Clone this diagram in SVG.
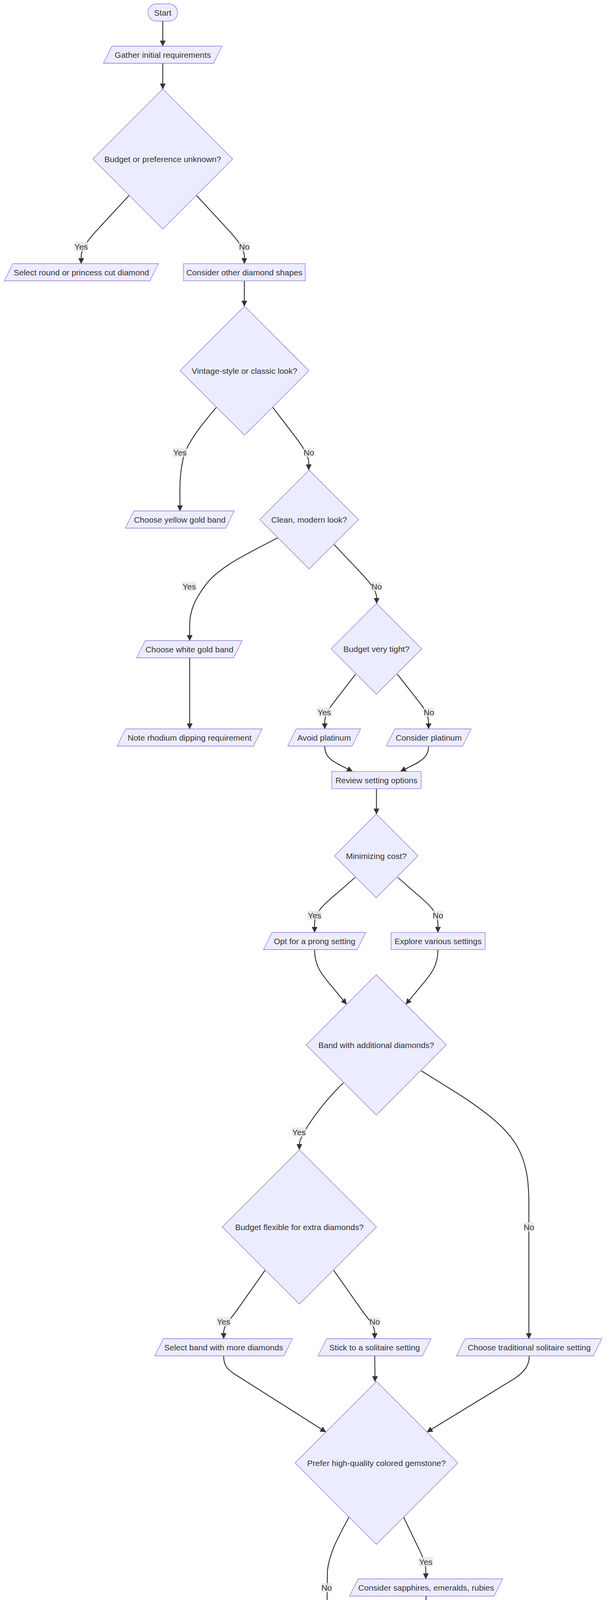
<svg xmlns="http://www.w3.org/2000/svg" width="1568" height="4724" viewBox="0 0 1568 4724">
<style>
.node rect, .node polygon { fill: #ECECFF; stroke: #9370DB; stroke-width: 1.3; }
.t { font-family: "Liberation Sans", Arial, sans-serif; font-size: 21px; fill: #333333; text-anchor: middle; }
.edge { fill: none; stroke: #333333; stroke-width: 2.3; marker-end: url(#arr); }
.lbl rect { fill: #e8e8e8; opacity: 0.85; }
</style>
<defs>
<marker id="arr" viewBox="0 0 10 10" refX="9.5" refY="5" markerUnits="userSpaceOnUse" markerWidth="15" markerHeight="15" orient="auto">
<path d="M0,0 L10,5 L0,10 z" fill="#333333"/>
</marker>
</defs>
<rect x="0" y="0" width="1568" height="4724" fill="#ffffff"/>

<g id="connectors">
<path class="edge" d="M417,54 L417,118"/>
<path class="edge" d="M417,162 L417,228"/>
<path class="edge" d="M331,500 L245,593 C228,612 209,635 208,655 L208,675"/>
<path class="edge" d="M503,500 L589,593 C606,612 625,635 626,655 L626,675"/>
<path class="edge" d="M626,719 L626,784"/>
<path class="edge" d="M554,1043 C510,1095 475,1140 468,1180 C463,1205 461,1225 461,1250 L461,1308"/>
<path class="edge" d="M699,1043 L764,1128 C780,1150 791,1170 791,1185 L791,1203"/>
<path class="edge" d="M711,1377 C640,1415 560,1450 525,1500 C495,1540 486,1570 486,1600 L486,1640"/>
<path class="edge" d="M856,1394 L925,1467 C948,1492 964,1510 965,1530 L965,1545"/>
<path class="edge" d="M486,1684 L486,1866"/>
<path class="edge" d="M911,1726 L850,1805 C838,1822 832,1835 832,1850 L832,1866"/>
<path class="edge" d="M1018,1726 L1080,1805 C1092,1822 1098,1835 1098,1850 L1098,1866"/>
<path class="edge" d="M832,1910 C832,1945 860,1952 903,1975"/>
<path class="edge" d="M1098,1910 C1098,1945 1070,1952 1026,1975"/>
<path class="edge" d="M964.5,2019 L964.5,2084"/>
<path class="edge" d="M910,2246 L862,2288 C830,2315 806,2335 806,2365 L806,2387"/>
<path class="edge" d="M1019,2246 L1067,2288 C1099,2315 1122,2335 1122,2365 L1122,2387"/>
<path class="edge" d="M806,2431 C806,2470 820,2490 850,2525 L888,2571"/>
<path class="edge" d="M1122,2431 C1122,2470 1108,2490 1078,2525 L1040,2571"/>
<path class="edge" d="M880,2772 C840,2810 810,2850 790,2880 C775,2905 767,2920 767,2930 L767,2943"/>
<path class="edge" d="M1079,2741 L1180,2804 C1250,2850 1300,2890 1325,2935 C1348,2975 1355,3020 1355,3080 L1355,3427"/>
<path class="edge" d="M679,3252 L605,3357 C590,3378 573,3392 573,3412 L573,3427"/>
<path class="edge" d="M855,3252 L929,3357 C944,3378 960,3392 960,3412 L960,3427"/>
<path class="edge" d="M573,3471 C573,3495 582,3505 600,3517 L835,3666"/>
<path class="edge" d="M960,3471 L961,3537"/>
<path class="edge" d="M1356,3471 C1356,3495 1345,3510 1320,3528 L1094,3666"/>
<path class="edge" d="M1034,3884 L1078,3975 C1085,3990 1091,4005 1091,4020 L1091,4042"/>
<path class="edge" d="M894,3884 C870,3930 845,3970 839,4020 L838,4090 C838,4140 862,4168 896,4218"/>
<path class="edge" d="M1092,4086 C1092,4130 1065,4165 1032,4218"/>
<path class="edge" d="M887,4454 L818,4555 C808,4570 801,4585 801,4600 L801,4620"/>
<path class="edge" d="M1042,4454 L1110,4555 C1120,4570 1127,4585 1127,4600 L1127,4620"/>
</g>

<g id="edge-labels">
<g class="lbl"><rect x="190" y="619.5" width="36" height="23.4"/><text class="t" x="208" y="638.5">Yes</text></g>
<g class="lbl"><rect x="612.5" y="619.5" width="27" height="23.4"/><text class="t" x="626" y="638.5">No</text></g>
<g class="lbl"><rect x="443" y="1146.3" width="36" height="23.4"/><text class="t" x="461" y="1165.5">Yes</text></g>
<g class="lbl"><rect x="778" y="1146.3" width="27" height="23.4"/><text class="t" x="791.5" y="1165.5">No</text></g>
<g class="lbl"><rect x="467" y="1489.3" width="36" height="23.4"/><text class="t" x="485" y="1508.5">Yes</text></g>
<g class="lbl"><rect x="951.5" y="1489.3" width="27" height="23.4"/><text class="t" x="965" y="1508.5">No</text></g>
<g class="lbl"><rect x="813" y="1811.3" width="36" height="23.4"/><text class="t" x="831" y="1830.5">Yes</text></g>
<g class="lbl"><rect x="1085.5" y="1811.3" width="27" height="23.4"/><text class="t" x="1099" y="1830.5">No</text></g>
<g class="lbl"><rect x="788" y="2331.3" width="36" height="23.4"/><text class="t" x="806" y="2350.5">Yes</text></g>
<g class="lbl"><rect x="1108.5" y="2331.3" width="27" height="23.4"/><text class="t" x="1122" y="2350.5">No</text></g>
<g class="lbl"><rect x="748" y="2886.3" width="36" height="23.4"/><text class="t" x="766" y="2905.5">Yes</text></g>
<g class="lbl"><rect x="1341.5" y="3129.3" width="27" height="23.4"/><text class="t" x="1355" y="3148.5">No</text></g>
<g class="lbl"><rect x="555" y="3371.8" width="36" height="23.4"/><text class="t" x="573" y="3391">Yes</text></g>
<g class="lbl"><rect x="946.5" y="3371.8" width="27" height="23.4"/><text class="t" x="960" y="3391">No</text></g>
<g class="lbl"><rect x="1073" y="3986.3" width="36" height="23.4"/><text class="t" x="1091" y="4005.5">Yes</text></g>
<g class="lbl"><rect x="823.5" y="4052.8" width="27" height="23.4"/><text class="t" x="837" y="4072">No</text></g>
<g class="lbl"><rect x="783" y="4563.3" width="36" height="23.4"/><text class="t" x="801" y="4582.5">Yes</text></g>
<g class="lbl"><rect x="1114" y="4563.3" width="27" height="23.4"/><text class="t" x="1127.5" y="4582.5">No</text></g>
</g>

<g id="n-start" class="node"><rect x="379" y="10" width="76" height="44" rx="22" ry="22"/><text class="t" x="417" y="39.5">Start</text></g>
<g id="n-gather" class="node"><polygon points="287,118 569,118 547,162 265,162"/><text class="t" x="417" y="147.5">Gather initial requirements</text></g>
<g id="n-d1" class="node"><polygon points="417,228 596,407 417,586 238,407"/><text class="t" x="417" y="414.5">Budget or preference unknown?</text></g>
<g id="n-round" class="node"><polygon points="33,675 406,675 384,719 11,719"/><text class="t" x="208.5" y="704.5">Select round or princess cut diamond</text></g>
<g id="n-other" class="node"><rect x="470" y="675" width="312" height="44"/><text class="t" x="626" y="704.5">Consider other diamond shapes</text></g>
<g id="n-d2" class="node"><polygon points="626.5,784 791.5,949 626.5,1114 461.5,949"/><text class="t" x="626.5" y="956.5">Vintage-style or classic look?</text></g>
<g id="n-yellow" class="node"><polygon points="343,1308 600,1308 578,1352 321,1352"/><text class="t" x="460.5" y="1337.5">Choose yellow gold band</text></g>
<g id="n-d3" class="node"><polygon points="792,1203.5 918.5,1330 792,1456.5 665.5,1330"/><text class="t" x="792" y="1337.5">Clean, modern look?</text></g>
<g id="n-white" class="node"><polygon points="372,1640 620.6,1640 598.6,1684 350,1684"/><text class="t" x="485.3" y="1669.5">Choose white gold band</text></g>
<g id="n-d4" class="node"><polygon points="964.5,1545 1080.5,1661 964.5,1777 848.5,1661"/><text class="t" x="964.5" y="1668.5">Budget very tight?</text></g>
<g id="n-rhodium" class="node"><polygon points="322,1866 671.5,1866 649.5,1910 300,1910"/><text class="t" x="485.75" y="1895.5">Note rhodium dipping requirement</text></g>
<g id="n-avoid" class="node"><polygon points="759,1866 924,1866 902,1910 737,1910"/><text class="t" x="830.5" y="1895.5">Avoid platinum</text></g>
<g id="n-plat" class="node"><polygon points="1011.7,1866 1207.1,1866 1185.1,1910 989.7,1910"/><text class="t" x="1098.4" y="1895.5">Consider platinum</text></g>
<g id="n-review" class="node"><rect x="850" y="1975" width="229" height="44"/><text class="t" x="964.5" y="2004.5">Review setting options</text></g>
<g id="n-d5" class="node"><polygon points="964,2084 1071,2191 964,2298 857,2191"/><text class="t" x="964" y="2198.5">Minimizing cost?</text></g>
<g id="n-prong" class="node"><polygon points="697,2387 937,2387 915,2431 675,2431"/><text class="t" x="806" y="2416.5">Opt for a prong setting</text></g>
<g id="n-explore" class="node"><rect x="1002" y="2387" width="241" height="44"/><text class="t" x="1122.5" y="2416.5">Explore various settings</text></g>
<g id="n-d6" class="node"><polygon points="964,2495.5 1143.5,2675 964,2854.5 784.5,2675"/><text class="t" x="964" y="2682.5">Band with additional diamonds?</text></g>
<g id="n-d7" class="node"><polygon points="767,2943.5 964.5,3141 767,3338.5 569.5,3141"/><text class="t" x="767" y="3148.5">Budget flexible for extra diamonds?</text></g>
<g id="n-more" class="node"><polygon points="418.6,3427 749.4,3427 727.4,3471 396.6,3471"/><text class="t" x="573" y="3456.5">Select band with more diamonds</text></g>
<g id="n-stick" class="node"><polygon points="837,3427 1104.5,3427 1082.5,3471 815,3471"/><text class="t" x="959.75" y="3456.5">Stick to a solitaire setting</text></g>
<g id="n-trad" class="node"><polygon points="1191.7,3427 1542.1,3427 1520.1,3471 1169.7,3471"/><text class="t" x="1355.9" y="3456.5">Choose traditional solitaire setting</text></g>
<g id="n-d8" class="node"><polygon points="964.5,3536.5 1173,3745 964.5,3953.5 756,3745"/><text class="t" x="964.5" y="3752.5">Prefer high-quality colored gemstone?</text></g>
<g id="n-gems" class="node"><polygon points="917.5,4042 1288,4042 1266,4086 895.5,4086"/><text class="t" x="1091.75" y="4071.5">Consider sapphires, emeralds, rubies</text></g>
<g id="n-d9" class="node"><polygon points="964.3,4151.5 1153.8,4341 964.3,4530.5 774.8,4341"/><text class="t" x="964.3" y="4348.5">Present non-diamond as diamond?</text></g>
<g id="n-end1" class="node"><rect x="673" y="4620" width="256" height="43.5" rx="21.75" ry="21.75"/><text class="t" x="801" y="4649">End - Not recommended</text></g>
<g id="n-end2" class="node"><rect x="994.6" y="4620" width="265.4" height="43.5" rx="21.75" ry="21.75"/><text class="t" x="1127.3" y="4649">End - Ensure authenticity</text></g>
</svg>
